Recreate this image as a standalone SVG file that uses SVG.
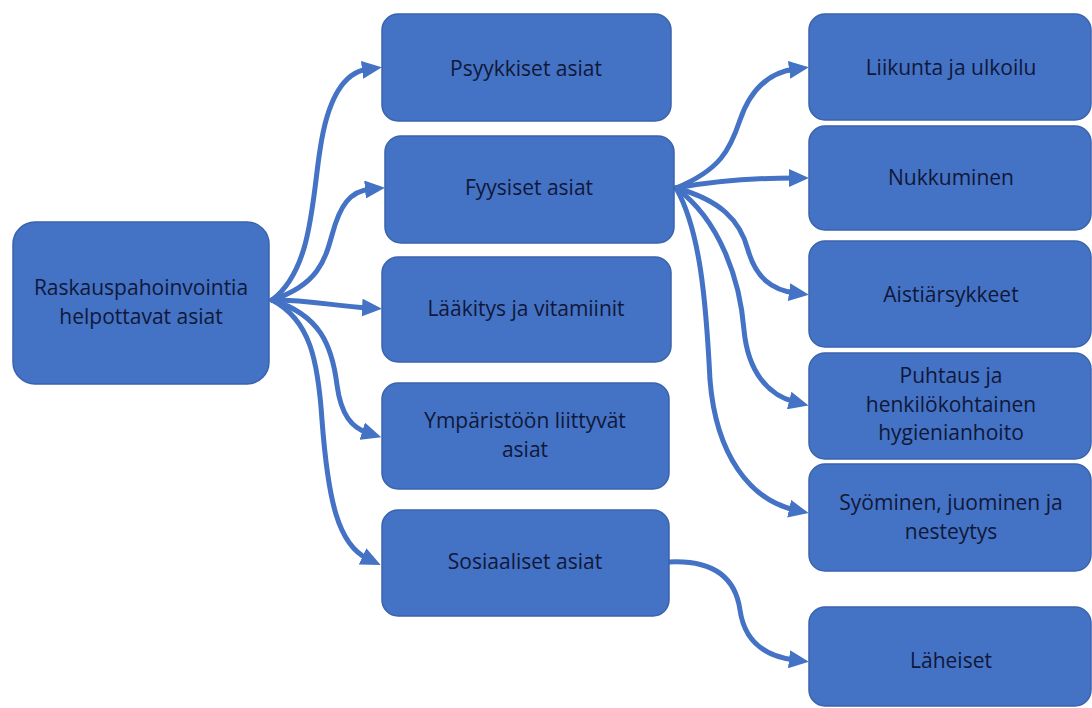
<svg xmlns="http://www.w3.org/2000/svg" width="1092" height="708" viewBox="0 0 1092 708">
<defs>
<style>
.box{fill:#4472C4;stroke:#3A63AD;stroke-width:1.5}
.t{font-family:"Open Sans","Noto Sans","Liberation Sans",sans-serif;font-size:21px;fill:#10183a;text-anchor:middle}
.c{fill:none;stroke:#4472C4;stroke-width:5;stroke-linecap:round;marker-end:url(#ah)}
</style>
<marker id="ah" markerUnits="userSpaceOnUse" markerWidth="20" markerHeight="18" refX="6" refY="9" orient="auto">
<path d="M0,0 L20,9 L0,18 Z" fill="#4472C4"/>
</marker>
</defs>
<rect width="1092" height="708" fill="#ffffff"/>
<g id="connectors">
<path class="c" d="M272,300 C312,270 312,200 320,150 C328,95 345,72 368,69"/>
<path class="c" d="M272,300 C318,285 325,260 332,235 C340,205 350,191 371,189"/>
<path class="c" d="M272,300 C310,300 335,306 368,308"/>
<path class="c" d="M272,300 C320,315 332,345 337,385 C341,415 352,428 368,433"/>
<path class="c" d="M272,300 C310,320 318,360 322,420 C328,500 338,545 368,559"/>
<path class="c" d="M676,188 C720,170 730,150 740,120 C752,85 772,72 795,69"/>
<path class="c" d="M676,188 C720,180 755,178 795,178"/>
<path class="c" d="M676,188 C720,200 740,220 748,250 C756,278 772,290 795,293"/>
<path class="c" d="M676,188 C720,220 740,280 744,330 C748,372 768,395 795,402"/>
<path class="c" d="M676,188 C700,230 706,300 710,380 C716,455 750,500 795,510"/>
<path class="c" d="M669,562 C710,560 735,575 740,610 C745,645 770,657 795,660"/>
</g>
<g id="root">
<rect class="box" x="13" y="222" width="256" height="162" rx="22"/>
<text class="t" x="141" y="295">Raskauspahoinvointia</text>
<text class="t" x="141" y="324">helpottavat asiat</text>
</g>
<g id="psyykkiset">
<rect class="box" x="382" y="14" width="289" height="107" rx="16"/>
<text class="t" x="526" y="76">Psyykkiset asiat</text>
</g>
<g id="fyysiset">
<rect class="box" x="385" y="136" width="289" height="107" rx="16"/>
<text class="t" x="529" y="195">Fyysiset asiat</text>
</g>
<g id="laakitys">
<rect class="box" x="382" y="257" width="289" height="105" rx="16"/>
<text class="t" x="526" y="316">Lääkitys ja vitamiinit</text>
</g>
<g id="ymparisto">
<rect class="box" x="382" y="383" width="287" height="106" rx="16"/>
<text class="t" x="525" y="428">Ympäristöön liittyvät</text>
<text class="t" x="525" y="457">asiat</text>
</g>
<g id="sosiaaliset">
<rect class="box" x="382" y="510" width="287" height="106" rx="16"/>
<text class="t" x="525" y="569">Sosiaaliset asiat</text>
</g>
<g id="liikunta">
<rect class="box" x="809" y="14" width="282" height="106" rx="16"/>
<text class="t" x="951" y="75">Liikunta ja ulkoilu</text>
</g>
<g id="nukkuminen">
<rect class="box" x="809" y="126" width="282" height="104" rx="16"/>
<text class="t" x="951" y="185">Nukkuminen</text>
</g>
<g id="aistiarsykkeet">
<rect class="box" x="809" y="241" width="282" height="106" rx="16"/>
<text class="t" x="951" y="302">Aistiärsykkeet</text>
</g>
<g id="puhtaus">
<rect class="box" x="809" y="353" width="282" height="106" rx="16"/>
<text class="t" x="951" y="383">Puhtaus ja</text>
<text class="t" x="951" y="411.5">henkilökohtainen</text>
<text class="t" x="951" y="440">hygienianhoito</text>
</g>
<g id="syominen">
<rect class="box" x="809" y="464" width="282" height="107" rx="16"/>
<text class="t" x="951" y="510">Syöminen, juominen ja</text>
<text class="t" x="951" y="539">nesteytys</text>
</g>
<g id="laheiset">
<rect class="box" x="809" y="607" width="282" height="99" rx="16"/>
<text class="t" x="951" y="668">Läheiset</text>
</g>
</svg>
